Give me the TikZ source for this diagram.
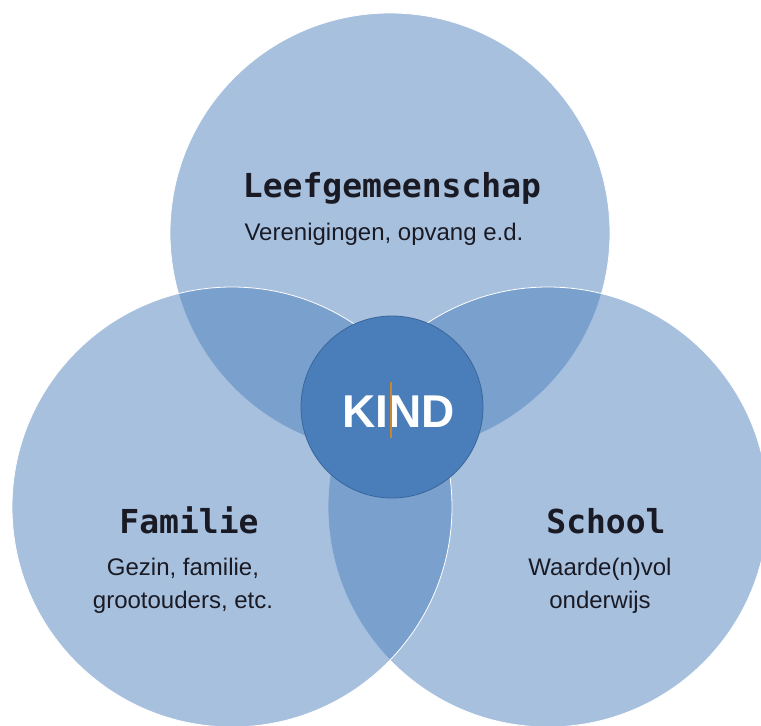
\documentclass[tikz,border=0pt]{standalone}
\usepackage{fontspec}
\setmainfont{Liberation Sans}
\newfontfamily\kopfont{DejaVu Sans Mono}
\definecolor{venn}{HTML}{4F81BD}
\definecolor{kern}{HTML}{4A7EBB}
\definecolor{kernrand}{HTML}{3A6699}
\definecolor{tekst}{HTML}{1A1A24}
\definecolor{cursor}{HTML}{C8862E}

\begin{document}
\begin{tikzpicture}[x=1pt,y=-1pt,line join=round,
    kring/.style={circle,minimum size=440pt,inner sep=0pt,fill=venn,fill opacity=0.5,draw=white,line width=0.8pt},
    kop/.style={anchor=base,inner sep=0pt,text=tekst,font=\kopfont\bfseries\fontsize{33}{36}\selectfont},
    sub/.style={anchor=base,inner sep=0pt,text=tekst,align=center,font=\fontsize{24}{33}\selectfont}]
    \useasboundingbox (0,0) rectangle (761,726);
    % drie kringen
    \node[kring] (leef) at (390,233) {};
    \node[kring] (school) at (548,507) {};
    \node[kring] (familie) at (232,507) {};
    \node[circle,minimum size=182pt,inner sep=0pt,fill=kern,draw=kernrand,line width=0.8pt] (kind) at (392,407) {};
    \node[anchor=base,inner sep=0pt,text=white,font=\bfseries\fontsize{46}{50}\selectfont] (kindtekst) at (399,427) {KIND};
    \draw[cursor,line width=1.6pt] (391,382) -- (391,438);
    % teksten
    \node[kop] (leefkop) at (392,197) {Leefgemeenschap};
    \node[sub] (leefsub) at (384,240) {Verenigingen, opvang e.d.};
    \node[kop] (familiekop) at (189,533) {Familie};
    \node[sub] (familiesub) at (183,608) {Gezin, familie,\\grootouders, etc.};
    \node[kop] (schoolkop) at (606,533) {School};
    \node[sub] (schoolsub) at (600,608) {Waarde(n)vol\\onderwijs};
\end{tikzpicture}
\end{document}
